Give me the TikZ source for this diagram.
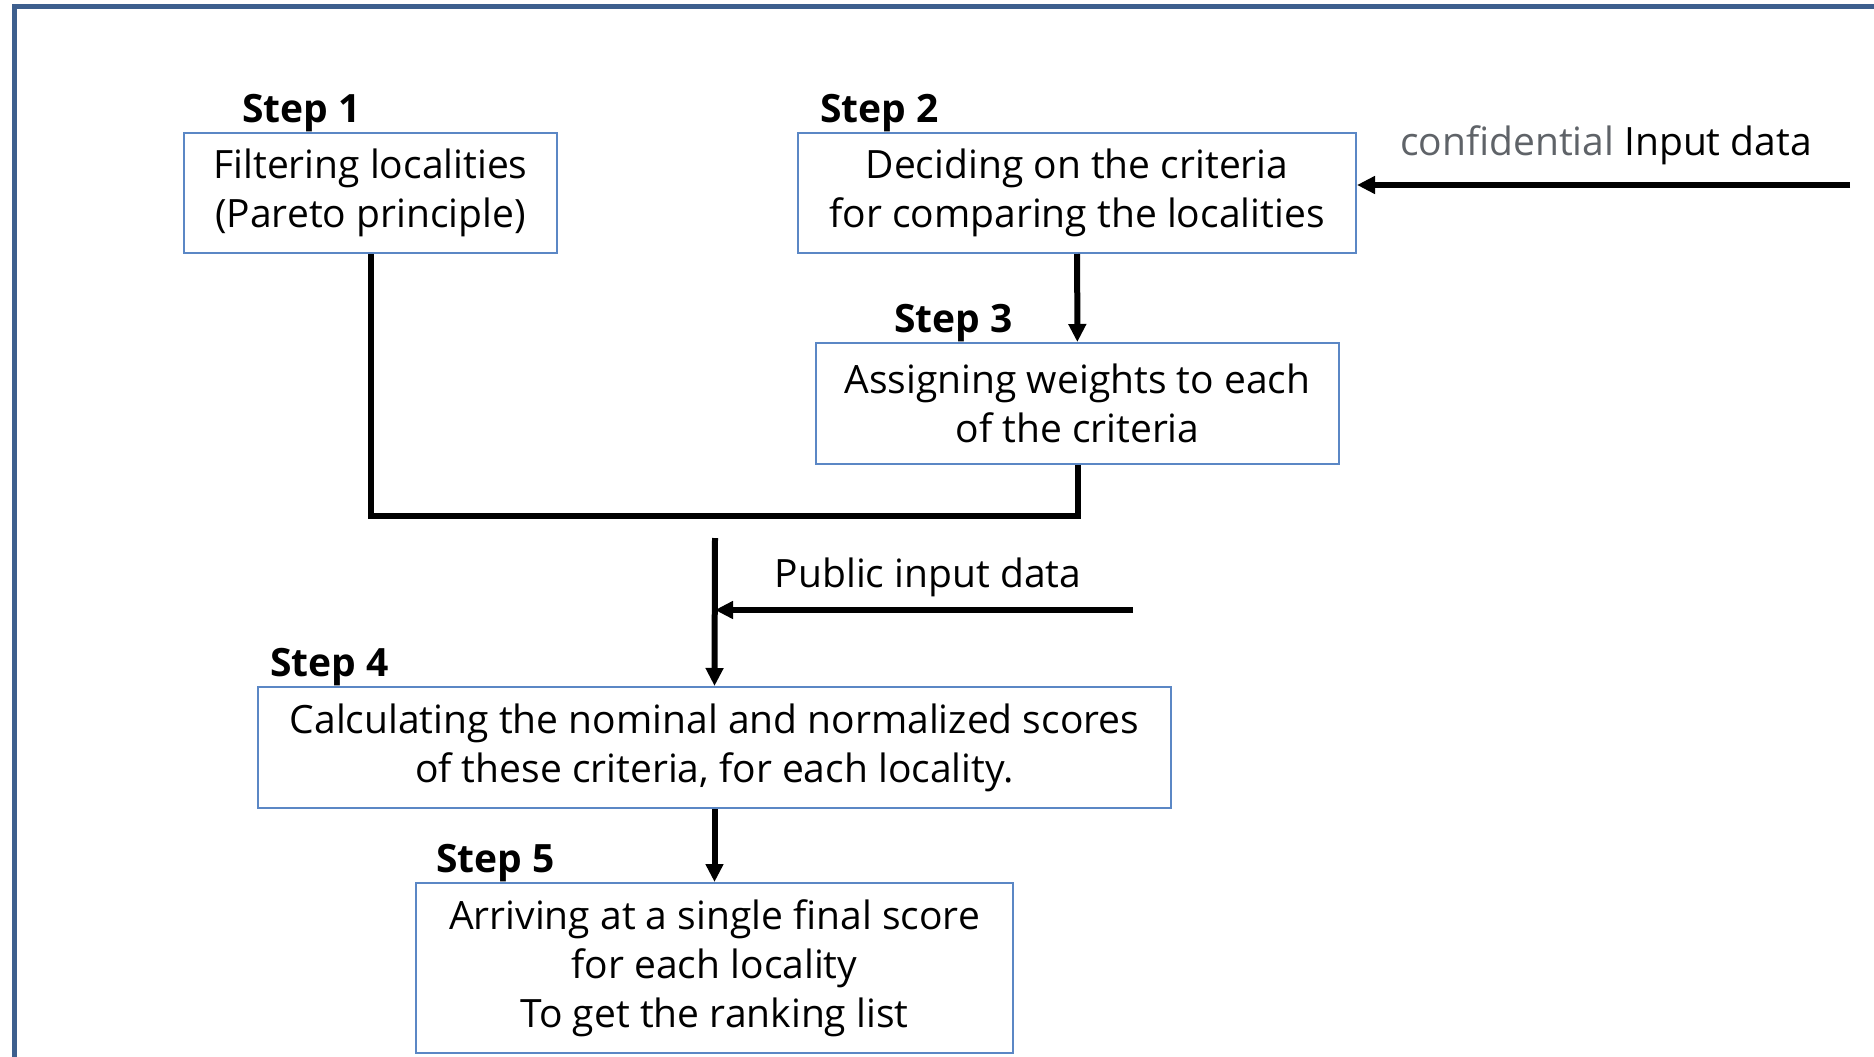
\documentclass[tikz,border=0pt]{standalone}
\usepackage{fontspec}
\setmainfont{Open Sans}
\usetikzlibrary{arrows.meta,positioning}
\definecolor{boxblue}{HTML}{5B87C5}
\definecolor{frameblue}{HTML}{3D5F8E}
\definecolor{greytext}{HTML}{5F6368}

\begin{document}
\begin{tikzpicture}[x=1pt,y=-1pt,>={Triangle[length=18pt,width=17pt]},
                    step box/.style={draw=boxblue,line width=2pt,align=center,
                      inner sep=0pt,font=\fontsize{39}{49}\selectfont},
                    step label/.style={inner sep=0pt,font=\fontsize{39}{45}\selectfont\bfseries},
                    flow/.style={line width=6pt},
                    input text/.style={inner sep=0pt,font=\fontsize{39}{45}\selectfont}
                    ]
  \useasboundingbox (0,0) rectangle (1874,1057);
  \draw[frameblue,line width=5pt] (14.5,1075) -- (14.5,6.5) -- (1890,6.5);

  % the five steps
  \node[step box,minimum width=373pt,minimum height=120pt] (s1) at (370.5,193)
    {Filtering localities\\(Pareto principle)};
  \node[step box,minimum width=558pt,minimum height=120pt] (s2) at (1077,193)
    {Deciding on the criteria\\for comparing the localities};
  \node[step box,minimum width=523pt,minimum height=121pt] (s3) at (1077.5,403.5)
    {Assigning weights to each\\of the criteria};
  \node[step box,minimum width=913pt,minimum height=121pt] (s4) at (714.5,747.5)
    {Calculating the nominal and normalized scores\\of these criteria, for each locality.};
  \node[step box,minimum width=597pt,minimum height=170pt] (s5) at (714.5,968)
    {Arriving at a single final score\\for each locality\\To get the ranking list};

  \node[step label] (l1) [above right=0pt and 59pt of s1.north west] {Step 1};
  \node[step label] (l2) [above right=0pt and 23pt of s2.north west] {Step 2};
  \node[step label] (l3) [above right=0pt and 79pt of s3.north west] {Step 3};
  \node[step label] (l4) [above right=0pt and 13pt of s4.north west] {Step 4};
  \node[step label] (l5) [above right=0pt and 21pt of s5.north west] {Step 5};

  % inputs
  \node[input text] (conf) at (1606,145) {\textcolor{greytext}{confidential} Input data};
  \coordinate (confin) at (1850,185);
  \node[input text] (pub) at (928,577) {Public input data};
  \coordinate (pubin) at (1133,610);
  \coordinate (merge) at (715,538);

  \draw[flow,->] (confin) -- (confin -| s2.east);
  \draw[flow,->] (s2) -- (s3);
  \draw[flow] (s1.south) |- (s3.south |- 0,516) -- (s3.south);
  \draw[flow,->] (merge) -- (s4.north);
  \draw[flow,->] (pubin) -- (pubin -| merge);
  \draw[flow,->] (s4) -- (s5);
\end{tikzpicture}
\end{document}
